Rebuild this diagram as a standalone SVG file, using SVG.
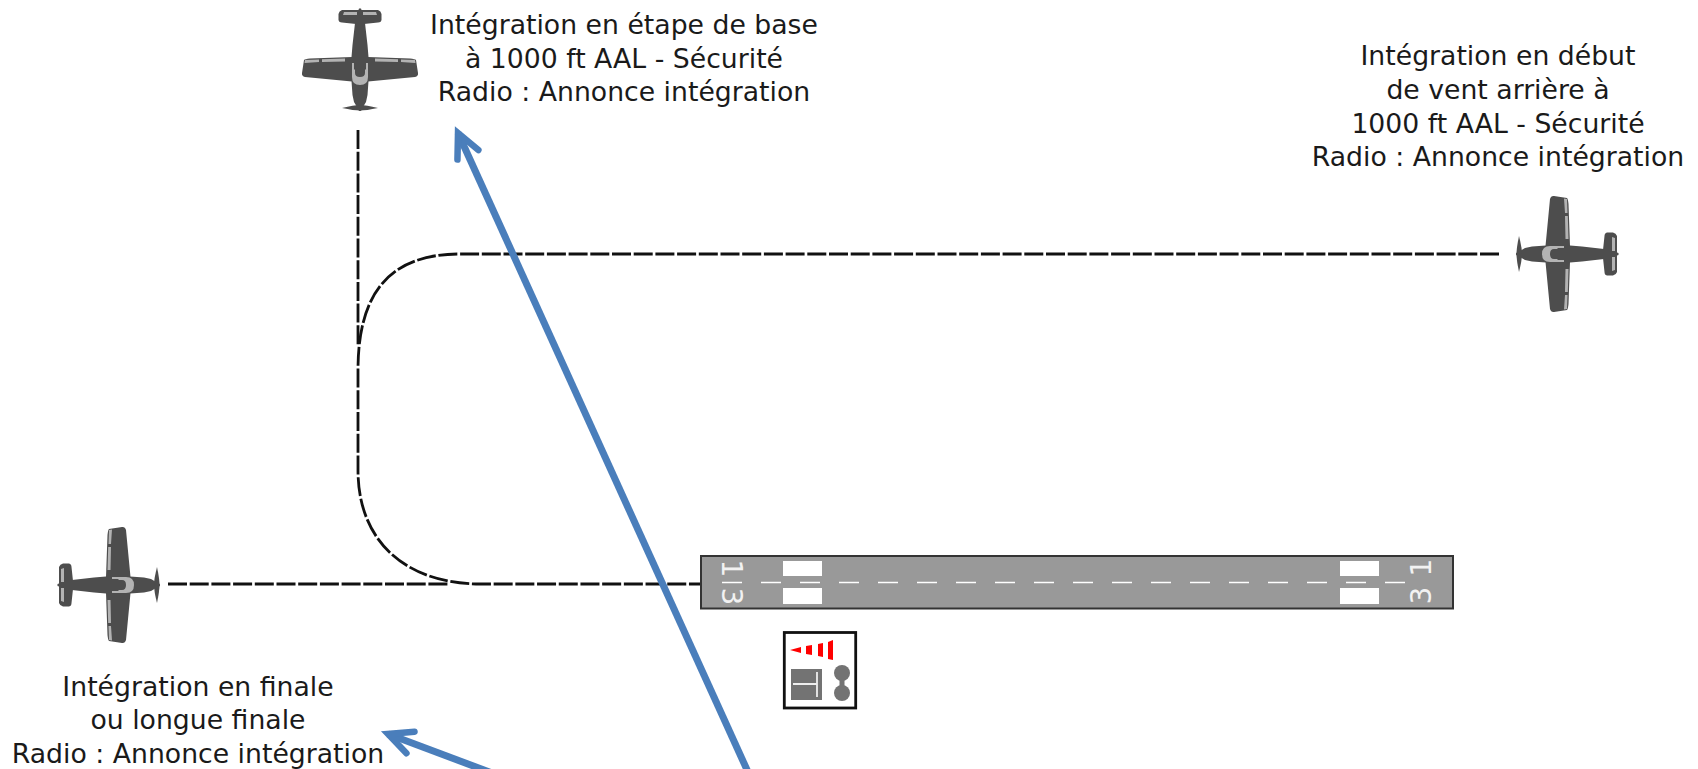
<svg xmlns="http://www.w3.org/2000/svg" xmlns:xlink="http://www.w3.org/1999/xlink" width="1698" height="769" viewBox="0 0 1698 769">
<style>
text{font-family:"DejaVu Sans",sans-serif;fill:#1a1a1a}
.lbl{font-size:26.7px;text-anchor:middle}
.rw{font-size:28px;text-anchor:middle;fill:#f2f2f2}
.dash{fill:none;stroke:#111;stroke-width:2.8;stroke-dasharray:19 2.7}
.blue{fill:none;stroke:#4a7ebb;stroke-width:7}
.dk{fill:#4d4d4d}
.lt{fill:#b3b3b3}
.cl{fill:none;stroke:#fff;stroke-width:1.6;stroke-dasharray:20 19}
.bar{fill:#fff}
.gr{fill:#737373}
</style>
<defs>
<marker id="head" markerUnits="userSpaceOnUse" markerWidth="40" markerHeight="40" refX="30" refY="20" orient="auto" overflow="visible">
<path d="M6,8.5 L30,20 L6,31.5" fill="none" stroke="#4a7ebb" stroke-width="6.5" stroke-linecap="round" stroke-linejoin="miter"/>
</marker>
<g id="plane">
<path class="dk" d="M-1,-48.5 L1,-48.5 L2.5,-44 L5,-34 L7.5,-12 L8.5,0 L8.5,24 L7.5,38 L6,45 L3,50 L1,54 L-1,54 L-3,50 L-6,45 L-7.5,38 L-8.5,24 L-8.5,0 L-7.5,-12 L-5,-34 L-2.5,-44Z"/>
<path class="dk" d="M-56,3 Q-55,2 -50,1.5 L-8,0 L8,0 L50,1.5 Q55,2 56,3 L58,16 Q58.5,19 55,20 L8,24.5 L-8,24.5 L-55,20 Q-58.5,19 -58,16Z"/>
<path class="dk" d="M-18,-47 L18,-47 Q21,-46 21.5,-43 L21.5,-37 Q21,-34.5 18,-34.5 L4,-33 L-4,-33 L-18,-34.5 Q-21,-34.5 -21.5,-37 L-21.5,-43 Q-21,-46 -18,-47Z"/>
<path class="dk" d="M-18,51 Q-6,48 0,48 Q6,48 18,51 Q6,53.5 0,53.5 Q-6,53.5 -18,51Z"/>
<path class="lt" d="M-55,3 L-41,2.5 L-41,5 L-55.5,6Z M-38,2.2 L-15,1.5 L-15,4.5 L-38,5Z M15,1.5 L38,2.2 L38,5 L15,4.5Z M41,2.5 L55,3 L55.5,6 L41,5Z"/>
<path class="lt" d="M-16,-45 L-3,-45 L-3,-42 L-17,-42Z M3,-45 L16,-45 L17,-42 L3,-42Z"/>
<path class="lt" d="M-8,6 L-6,6 L-6,12 L-5,13 L-5,16 Q-5,20 0,20 Q5,20 5,16 L5,13 L6,12 L6,6 L8,6 L8,20 Q8,28 0,28 Q-8,28 -8,20Z"/>
</g>
</defs>
<rect width="1698" height="769" fill="#fff"/>
<g id="connectors">
<path class="dash" d="M358,130 V345"/>
<path class="dash" d="M168,584 H450"/>
<path class="dash" d="M1499,254 H460 C392,254 358,290 358,370 V470 C358,545 410,584 480,584 H700"/>
<path class="blue" marker-end="url(#head)" d="M748,772 L458,133"/>
<path class="blue" marker-end="url(#head)" d="M500,776 L388,734"/>
</g>
<g id="plane-base"><use xlink:href="#plane" href="#plane" transform="translate(360,57)"/></g>
<g id="plane-downwind"><use xlink:href="#plane" href="#plane" transform="translate(1570,254) rotate(90)"/></g>
<g id="plane-final"><use xlink:href="#plane" href="#plane" transform="translate(106,585) rotate(-90)"/></g>
<g id="runway">
<rect x="701" y="556" width="752" height="52.5" fill="#999" stroke="#333" stroke-width="2"/>
<rect class="bar" x="783" y="561" width="39" height="15"/>
<rect class="bar" x="783" y="588" width="39" height="16"/>
<rect class="bar" x="1340" y="561" width="39" height="15"/>
<rect class="bar" x="1340" y="588" width="39" height="16"/>
<path class="cl" d="M722,582.5 H1406"/>
<text class="rw" transform="translate(722,568.5) rotate(90)">1</text>
<text class="rw" transform="translate(722,596.5) rotate(90)">3</text>
<text class="rw" transform="translate(1431,567.5) rotate(-90)">1</text>
<text class="rw" transform="translate(1431,595.5) rotate(-90)">3</text>
</g>
<g id="signal-area">
<rect x="784.3" y="632.5" width="71.4" height="75.5" fill="#fff" stroke="#111" stroke-width="2.8"/>
<path d="M790,650 L801,647 L801,653Z M806,646 L812,645 L812,655 L806,654Z M818,644 L823,643 L823,657 L818,656Z M828,642 L833,640 L833,660 L828,659Z" fill="#f00"/>
<rect class="gr" x="791" y="669" width="31" height="31"/>
<path d="M793,684 H817 M817,672 V697" fill="none" stroke="#eee" stroke-width="1.8"/>
<circle class="gr" cx="842" cy="673" r="8"/>
<circle class="gr" cx="842" cy="693" r="8"/>
<rect class="gr" x="839.5" y="678" width="5" height="10"/>
</g>
<g id="label-base">
<text class="lbl" x="624" y="33.5">Intégration en étape de base</text>
<text class="lbl" x="624" y="67.5">à 1000 ft AAL - Sécurité</text>
<text class="lbl" x="624" y="100.5">Radio : Annonce intégration</text>
</g>
<g id="label-downwind">
<text class="lbl" x="1498" y="65">Intégration en début</text>
<text class="lbl" x="1498" y="98.5">de vent arrière à</text>
<text class="lbl" x="1498" y="132.5">1000 ft AAL - Sécurité</text>
<text class="lbl" x="1498" y="165.5">Radio : Annonce intégration</text>
</g>
<g id="label-final">
<text class="lbl" x="198" y="695.5">Intégration en finale</text>
<text class="lbl" x="198" y="729">ou longue finale</text>
<text class="lbl" x="198" y="762.5">Radio : Annonce intégration</text>
</g>
</svg>
